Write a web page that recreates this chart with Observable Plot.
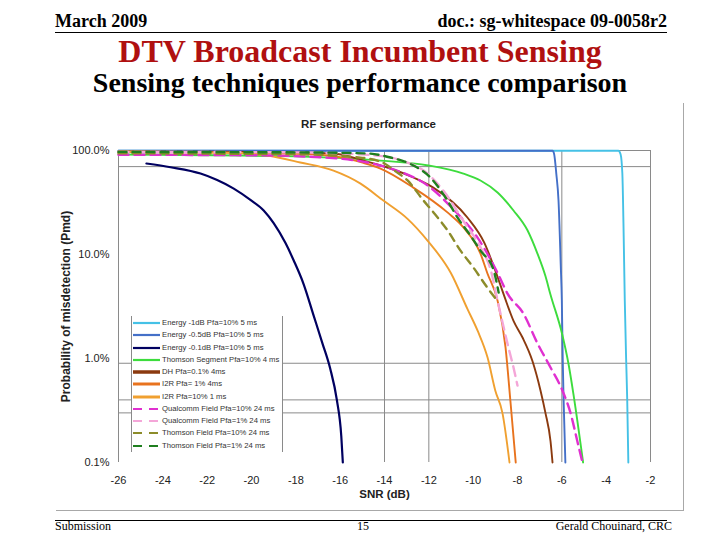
<!DOCTYPE html>
<html>
<head>
<meta charset="utf-8">
<script src="https://cdn.jsdelivr.net/npm/d3@7"></script>
<script src="https://cdn.jsdelivr.net/npm/@observablehq/plot@0.6"></script>
<style>
  html, body { margin: 0; padding: 0; background: #fff; }
  #page { position: relative; width: 720px; height: 540px; overflow: hidden; background: #fff; font-family: "Liberation Serif", serif; }
  .abs { position: absolute; white-space: nowrap; }
  #chart { position: absolute; left: 0; top: 100px; }
  #legend { position: absolute; left: 131px; top: 316px; width: 150px; height: 136px; background: #fff; border-left: 1px solid #8a8a8a; border-right: 1px solid #8a8a8a; }
  .lrow { position: absolute; left: 0; height: 12px; font-family: "Liberation Sans", sans-serif; font-size: 7.7px; color: #333; }
  .lrow svg { position: absolute; left: 1px; top: 0; }
  .lrow span { position: absolute; left: 30px; top: 0; line-height: 12px; }
</style>
</head>
<body>
<div id="page">
  <div class="abs" style="left:55px; top:11px; font-size:18px; font-weight:bold;">March 2009</div>
  <div class="abs" style="right:53px; top:11px; font-size:18px; font-weight:bold;">doc.: sg-whitespace 09-0058r2</div>
  <div class="abs" style="left:55px; top:32px; width:612px; height:1px; background:#000;"></div>
  <div class="abs" style="left:0; width:720px; text-align:center; top:33px; font-size:32px; font-weight:bold; color:#b01010;">DTV Broadcast Incumbent Sensing</div>
  <div class="abs" style="left:0; width:720px; text-align:center; top:67px; font-size:28px; font-weight:bold; color:#000;">Sensing techniques performance comparison</div>
  <div class="abs" style="left:683px; top:103px; width:1px; height:407px; background:#a8a8a8;"></div>
  <div class="abs" style="left:56px; top:510px; width:628px; height:1px; background:#a8a8a8;"></div>
  <div id="chart"></div>
  <div id="legend"></div>
  <div class="abs" style="left:55px; top:520px; width:612px; height:1px; background:#000;"></div>
  <div class="abs" style="left:55px; top:519px; font-size:12px;">Submission</div>
  <div class="abs" style="left:340px; width:46px; text-align:center; top:519px; font-size:12px;">15</div>
  <div class="abs" style="right:48px; top:519px; font-size:12px;">Gerald Chouinard, CRC</div>
</div>
<script>
// ---- Data (SNR in dB, Pmd in %) ----
const seriesNames = [
  "Energy -1dB Pfa=10% 5 ms",
  "Energy -0.5dB Pfa=10% 5 ms",
  "Energy -0.1dB Pfa=10% 5 ms",
  "Thomson Segment Pfa=10% 4 ms",
  "DH Pfa=0.1% 4ms",
  "I2R Pfa= 1% 4ms",
  "I2R Pfa=10% 1 ms",
  "Qualcomm Field Pfa=10% 24 ms",
  "Qualcomm Field Pfa=1% 24 ms",
  "Thomson Field Pfa=10% 24 ms",
  "Thomson Field Pfa=1% 24 ms"
];
const seriesColors = ["#45c1e6", "#4470c8", "#000060", "#3ddc3d", "#8b3a0f", "#e8731e", "#f0a030", "#e030d0", "#f4a6d8", "#8c8c2a", "#1f7f1f"];
const seriesDashed = [false, false, false, false, false, false, false, true, true, true, true];

const energy1Snr = [-26, -3.45, -3.35, -3.27, -3.22, -3.16, -3.1, -3.05, -3.0];
const energy1Pmd = [99.5, 99.5, 92, 60, 20, 3.6, 1.0, 0.4, 0.1];

const energy05Snr = [-26, -6.42, -6.35, -6.25, -6.15, -6.05, -6.0, -5.96, -5.92, -5.84];
const energy05Pmd = [99.5, 99.5, 93, 60, 33, 8, 3.6, 1.0, 0.4, 0.1];

const energy01Snr = [-24.74, -23.65, -22.3, -21.55, -20.8, -20.05, -19.45, -19.0, -18.46, -18.1, -17.65, -17.2, -16.8, -16.45, -16.15, -15.95, -15.88];
const energy01Pmd = [75, 69, 60, 52, 43, 33.5, 26.5, 20, 12.8, 8.8, 5.2, 2.6, 1.4, 0.8, 0.4, 0.18, 0.1];

const thomsonSegSnr = [-26, -18.7, -14.18, -12.02, -10.44, -9.67, -8.9, -8.18, -7.55, -7.1, -6.74, -6.51, -5.99, -5.7, -5.48, -5.04];
const thomsonSegPmd = [91.5, 88.2, 80, 71.8, 60, 51.5, 39.5, 26.5, 17.1, 10.2, 6.2, 4.1, 1.73, 0.89, 0.46, 0.1];

const dhSnr = [-26, -20, -16.3, -14.95, -13.87, -12.7, -11.8, -10.26, -9.5, -9.0, -8.6, -8.18, -7.78, -7.33, -6.96, -6.74, -6.51, -6.42];
const dhPmd = [98, 97, 93.6, 80, 68.6, 55, 44, 22.7, 13.0, 7.0, 4.0, 2.3, 1.6, 0.95, 0.49, 0.30, 0.16, 0.1];

const i2r1Snr = [-26, -18, -16.3, -14.95, -14.18, -12.7, -11.16, -10.44, -9.67, -9.36, -8.9, -8.54, -8.32, -8.08];
const i2r1Pmd = [97, 93, 88, 76, 67, 44, 25.4, 18.2, 10.2, 6.6, 3.6, 1.28, 0.39, 0.1];

const i2r10Snr = [-26, -21, -19.3, -17.8, -16.3, -15.08, -14.05, -12.96, -12.06, -11.0, -10.26, -9.8, -9.35, -9.0, -8.68, -8.36];
const i2r10Pmd = [98, 95, 89.5, 76.7, 64, 48, 33, 22, 13.6, 6.6, 3.0, 1.85, 1.02, 0.49, 0.30, 0.10];

const qcom10Snr = [-26, -20, -16.5, -14.77, -13.87, -11.93, -10.93, -9.81, -8.86, -8.45, -7.73, -7.1, -6.51, -5.97, -5.61, -5.3, -5.07];
const qcom10Pmd = [91, 90, 85, 76.7, 68.6, 44, 27.7, 14.6, 6.4, 4.2, 2.7, 1.4, 0.82, 0.49, 0.30, 0.16, 0.1];

const qcom1Snr = [-26, -18, -14.5, -13.2, -12.06, -11.34, -10.44, -9.67, -9.2, -8.9, -8.41, -8.18, -8.0];
const qcom1Pmd = [97, 96, 90, 80, 60, 41, 21, 11.7, 7, 3.6, 1.28, 0.82, 0.55];

const thomField10Snr = [-26, -18, -15, -14, -13.5, -12.96, -12.24, -11.79, -11.16, -10.57, -9.99, -9.36, -9.0];
const thomField10Pmd = [94, 92, 85, 75, 63, 51.5, 33, 25.4, 17.1, 10.9, 7.5, 4.8, 3.8];

const thomField1Snr = [-26, -18, -14.77, -13.73, -12.7, -11.93, -11.16, -10.71, -10.12, -9.67, -9.09, -8.85];
const thomField1Pmd = [97, 96, 93.6, 85.6, 71.8, 55, 33, 22.7, 15.2, 10.9, 7.2, 4.3];

const xTicks = [-26, -24, -22, -20, -18, -16, -14, -12, -10, -8, -6, -4, -2];
const yTicks = [0.1, 1, 10, 100];
const xGrid = [-14, -12, -6, -2];
const yGrid = [100, 70, 0.9, 0.4, 0.3];

const chartTitle = "RF sensing performance";
const xLabel = "SNR (dB)";
const yLabel = "Probability of misdetection (Pmd)";

// ---- Build ----
const snrArrays = [energy1Snr, energy05Snr, energy01Snr, thomsonSegSnr, dhSnr, i2r1Snr, i2r10Snr, qcom10Snr, qcom1Snr, thomField10Snr, thomField1Snr];
const pmdArrays = [energy1Pmd, energy05Pmd, energy01Pmd, thomsonSegPmd, dhPmd, i2r1Pmd, i2r10Pmd, qcom10Pmd, qcom1Pmd, thomField10Pmd, thomField1Pmd];

const series = seriesNames.map((name, k) => ({
  name,
  color: seriesColors[k],
  dashed: seriesDashed[k],
  rows: snrArrays[k].map((x, i) => ({snr: x, pmd: pmdArrays[k][i], name}))
}));

const lineMarks = series.map((s, k) => Plot.line(s.rows, {
  x: "snr", y: "pmd",
  stroke: s.color,
  strokeWidth: s.dashed ? 2.4 : (k === 2 ? 2.2 : 1.9),
  strokeDasharray: s.dashed ? (k >= 9 ? "8,6" : "10,6") : null,
  curve: "monotone-x"
}));

const chart = Plot.plot({
  width: 720,
  height: 420,
  marginLeft: 118,
  marginRight: 70,
  marginTop: 50,
  marginBottom: 58,
  style: {fontFamily: "Liberation Sans, Arial, sans-serif", fontSize: "11px", color: "#222", background: "transparent"},
  x: {domain: [-26, -2]},
  y: {type: "log", domain: [0.1, 100]},
  marks: [
    Plot.ruleX(xGrid, {stroke: "#8a8a8a", strokeWidth: 1}),
    Plot.ruleY(yGrid, {stroke: "#8a8a8a", strokeWidth: 1}),
    Plot.ruleX([-26], {stroke: "#8a8a8a", strokeWidth: 1}),
    ...lineMarks,
    Plot.axisX({ticks: xTicks, tickSize: 0, tickPadding: 14, label: null, tickFormat: d => String(d)}),
    Plot.axisY({ticks: yTicks, tickSize: 0, tickPadding: 9, label: null, tickFormat: d => d.toFixed(1) + "%"}),
    Plot.text([chartTitle], {frameAnchor: "top", dy: -31, dx: -16, fontWeight: "bold", fontSize: 11.5, fill: "#222"}),
    Plot.text([xLabel], {frameAnchor: "bottom", dy: 35, fontWeight: "bold", fontSize: 11.5, fill: "#222"}),
    Plot.text([yLabel], {frameAnchor: "left", dx: -52, rotate: -90, textAnchor: "middle", fontWeight: "bold", fontSize: 12, fill: "#222"})
  ]
});
document.getElementById("chart").appendChild(chart);

// ---- Legend ----
const legend = document.getElementById("legend");
series.forEach((s, k) => {
  const row = document.createElement("div");
  row.className = "lrow";
  row.style.top = (1 + 12.25 * k) + "px";
  row.style.width = "150px";
  const thick = (k === 4) ? 3.5 : (k === 5 || k === 6) ? 3 : 2.2;
  const dash = s.dashed ? 'stroke-dasharray="9,7"' : "";
  row.innerHTML = `<svg width="28" height="12"><line x1="0" y1="6" x2="27" y2="6" stroke="${s.color}" stroke-width="${thick}" ${dash}/></svg><span>${s.name}</span>`;
  legend.appendChild(row);
});
</script>
</body>
</html>
